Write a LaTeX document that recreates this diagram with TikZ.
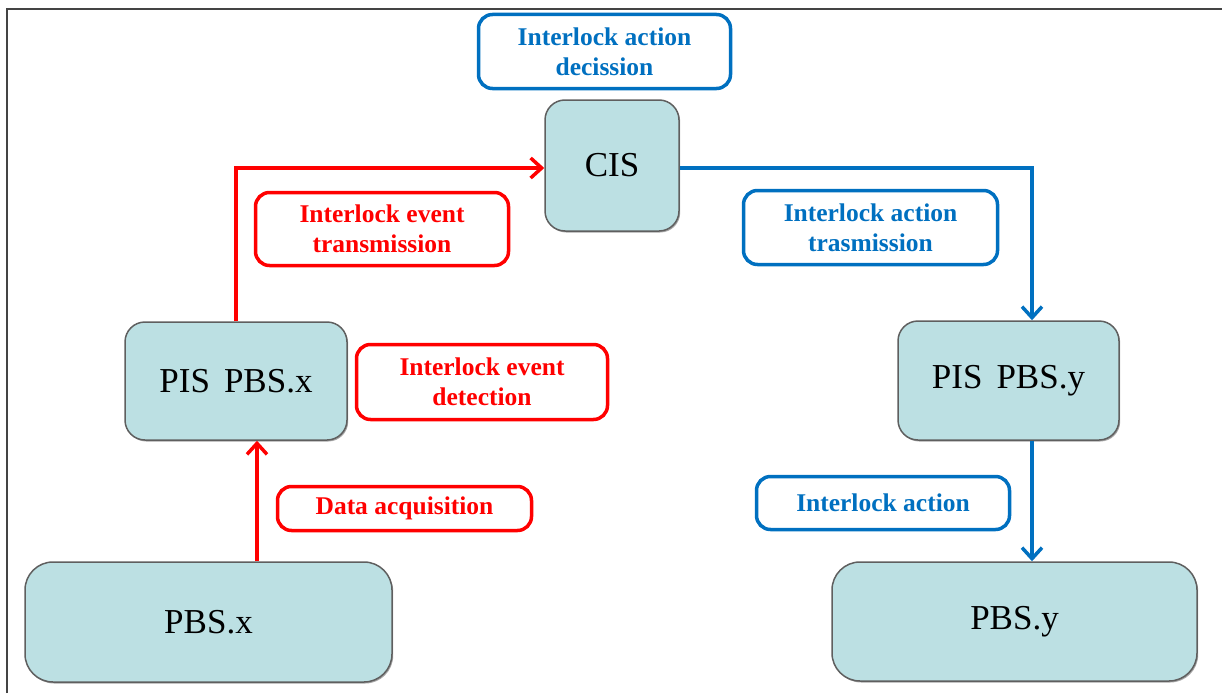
\documentclass[tikz,border=0pt]{standalone}
\usepackage{fontspec}
\setmainfont{Liberation Serif}
\usetikzlibrary{arrows.meta,shadows}
\definecolor{boxfill}{RGB}{188,224,227}
\definecolor{boxline}{RGB}{95,95,95}
\definecolor{actblue}{RGB}{0,112,192}
\definecolor{evred}{RGB}{255,0,0}
\definecolor{framegray}{RGB}{68,68,68}
\begin{document}
\begin{tikzpicture}[x=1pt,y=-1pt,
  unit/.style={draw=boxline, line width=1.5pt, fill=boxfill, rounded corners=#1,
    inner sep=0pt, font=\fontsize{35}{40}\selectfont,
    drop shadow={shadow xshift=1.2pt, shadow yshift=-1.5pt, fill=black, opacity=0.35}},
  unit/.default=20pt,
  tag/.style={draw=#1, text=#1, line width=3.5pt, rounded corners=14pt, fill=white,
    inner sep=0pt, align=center, font=\bfseries\fontsize{25.5}{30}\selectfont},
  flow/.style={draw=#1, line width=3.5pt,
    -{Straight Barb[length=11pt,width=20pt,line width=3.5pt]}},
]
\useasboundingbox (0,0) rectangle (1222,693);

% outer frame (left and top edges)
\draw[framegray, line width=2.5pt] (7,693) -- (7,9) -- (1222,9);

% system blocks
\node[unit, minimum width=134pt, minimum height=131pt] (cis) at (612,165.5) {CIS};
\node[unit, minimum width=222pt, minimum height=118pt] (pisx) at (236,381) {PIS\hspace{14pt}PBS.x};
\node[unit, minimum width=221pt, minimum height=119pt] (pisy) at (1008.5,380.5) {PIS\hspace{14pt}PBS.y};
\node[unit=28pt, minimum width=367pt, minimum height=120pt] (pbsx) at (208.5,622) {PBS.x};
\node[unit=28pt, minimum width=365pt, minimum height=119pt] (pbsy) at (1014.5,621.5) {PBS.y};

% step labels
\node[tag=actblue, minimum width=252pt, minimum height=74pt] (decide) at (604.5,51.5) {Interlock action\\decission};
\node[tag=evred, minimum width=253pt, minimum height=73pt] (evtx) at (382,229) {Interlock event\\transmission};
\node[tag=evred, minimum width=251pt, minimum height=75pt] (evdet) at (482,382) {Interlock event\\detection};
\node[tag=evred, minimum width=254pt, minimum height=44pt] (daq) at (404.5,508.5) {Data acquisition};
\node[tag=actblue, minimum width=254pt, minimum height=74pt] (acttx) at (870.5,227.5) {Interlock action\\trasmission};
\node[tag=actblue, minimum width=253pt, minimum height=53pt] (act) at (883,503) {Interlock action};

% connector columns
\coordinate (rx) at (257,500);
\coordinate (bx) at (1032,300);
\coordinate (ry) at (400,168);

% event path
\draw[flow=evred] (rx |- pbsx.north) -- (rx |- pisx.south);
\draw[flow=evred] (pisx.north) |- (ry -| cis.west);

% action path
\draw[flow=actblue] (ry -| cis.east) -| (bx |- pisy.north);
\draw[flow=actblue] (bx |- pisy.south) -- (bx |- pbsy.north);
\end{tikzpicture}
\end{document}
